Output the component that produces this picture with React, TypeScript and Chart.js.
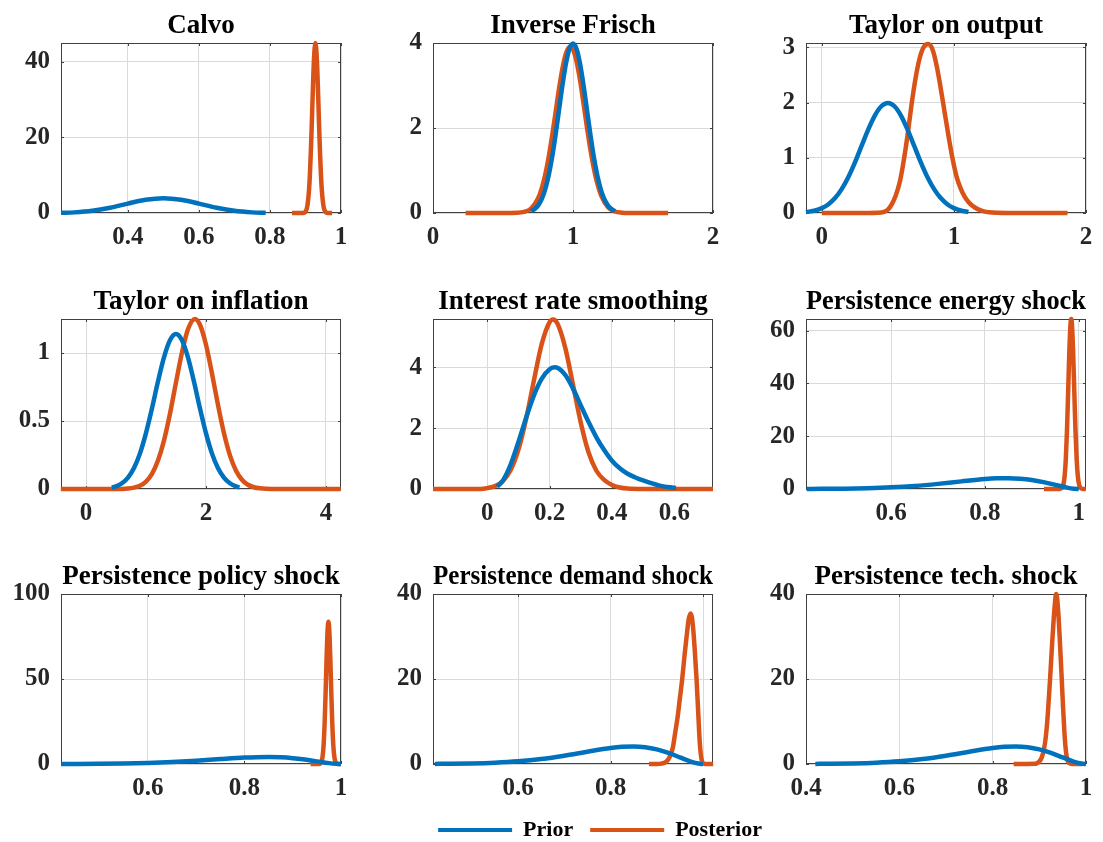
import React, { useEffect, useRef } from 'react';
import { Chart, registerables } from 'chart.js';

Chart.register(...registerables);

// ---------------- data ----------------
const titles = [
  'Calvo',
  'Inverse Frisch',
  'Taylor on output',
  'Taylor on inflation',
  'Interest rate smoothing',
  'Persistence energy shock',
  'Persistence policy shock',
  'Persistence demand shock',
  'Persistence tech. shock',
];
const seriesNames = ['Prior', 'Posterior'];

// Calvo
const calvoPriorX = [0.212, 0.25, 0.3, 0.35, 0.4, 0.45, 0.5, 0.55, 0.6, 0.65, 0.7, 0.75, 0.788];
const calvoPriorY = [0.046, 0.165, 0.573, 1.38, 2.49, 3.49, 3.9, 3.49, 2.49, 1.38, 0.573, 0.165, 0.046];
const calvoPostX = [0.862, 0.89, 0.895, 0.9, 0.905, 0.91, 0.9125, 0.915, 0.9175, 0.92, 0.924, 0.928, 0.932, 0.936, 0.9385, 0.941, 0.9435, 0.946, 0.951, 0.956, 0.961, 0.966, 0.975];
const calvoPostY = [0, 0, 0.05, 0.35, 1.71, 6.08, 10.2, 15.8, 22.7, 30.2, 40.7, 44.9, 40.7, 30.2, 22.7, 15.8, 10.2, 6.08, 1.71, 0.35, 0.05, 0, 0];

// Inverse Frisch
const frischPriorX = [0.7, 0.725, 0.75, 0.775, 0.8, 0.825, 0.85, 0.875, 0.9, 0.925, 0.95, 0.975, 1.0, 1.025, 1.05, 1.075, 1.1, 1.125, 1.15, 1.175, 1.2, 1.225, 1.25, 1.275, 1.3];
const frischPriorY = [0.044, 0.091, 0.175, 0.318, 0.54, 0.863, 1.295, 1.828, 2.42, 3.012, 3.521, 3.867, 3.989, 3.867, 3.521, 3.012, 2.42, 1.828, 1.295, 0.863, 0.54, 0.318, 0.175, 0.091, 0.044];
const frischPostX = [0.233, 0.5, 0.6, 0.65, 0.7, 0.75, 0.775, 0.8, 0.825, 0.85, 0.875, 0.9, 0.925, 0.95, 0.98, 1.0, 1.025, 1.05, 1.075, 1.1, 1.125, 1.15, 1.175, 1.2, 1.25, 1.3, 1.35, 1.4, 1.68];
const frischPostY = [0, 0, 0.005, 0.026, 0.105, 0.34, 0.563, 0.878, 1.29, 1.795, 2.35, 2.92, 3.41, 3.76, 3.92, 3.85, 3.57, 3.13, 2.58, 2.01, 1.48, 1.03, 0.676, 0.419, 0.135, 0.035, 0.007, 0, 0];

// Taylor on output
const outPriorX = [-0.12, -0.05, 0, 0.05, 0.1, 0.15, 0.2, 0.25, 0.3, 0.35, 0.4, 0.45, 0.5, 0.55, 0.6, 0.65, 0.7, 0.75, 0.8, 0.85, 0.9, 0.95, 1.0, 1.05, 1.11];
const outPriorY = [0.016, 0.045, 0.088, 0.159, 0.27, 0.432, 0.648, 0.913, 1.21, 1.506, 1.761, 1.934, 1.995, 1.934, 1.761, 1.506, 1.21, 0.913, 0.648, 0.432, 0.27, 0.159, 0.088, 0.045, 0.019];
const outPostX = [0, 0.35, 0.42, 0.47, 0.5, 0.53, 0.56, 0.59, 0.62, 0.65, 0.68, 0.71, 0.74, 0.77, 0.805, 0.84, 0.87, 0.9, 0.93, 0.96, 0.99, 1.02, 1.05, 1.08, 1.11, 1.14, 1.18, 1.22, 1.27, 1.33, 1.4, 1.86];
const outPostY = [0, 0, 0.003, 0.02, 0.06, 0.16, 0.32, 0.56, 0.95, 1.43, 1.98, 2.45, 2.8, 3.0, 3.06, 2.95, 2.66, 2.26, 1.82, 1.38, 0.98, 0.66, 0.45, 0.3, 0.2, 0.13, 0.07, 0.035, 0.012, 0.003, 0, 0];

// Taylor on inflation
const infPriorX = [0.43, 0.5, 0.6, 0.7, 0.8, 0.9, 1.0, 1.1, 1.2, 1.3, 1.4, 1.5, 1.6, 1.7, 1.8, 1.9, 2.0, 2.1, 2.2, 2.3, 2.4, 2.5, 2.56];
const infPriorY = [0.011, 0.019, 0.042, 0.084, 0.154, 0.262, 0.411, 0.593, 0.79, 0.968, 1.094, 1.14, 1.094, 0.968, 0.79, 0.593, 0.411, 0.262, 0.154, 0.084, 0.042, 0.019, 0.012];
const infPostX = [-0.42, 0.5, 0.7, 0.8, 0.9, 1.0, 1.1, 1.2, 1.3, 1.4, 1.5, 1.6, 1.7, 1.815, 1.9, 2.0, 2.1, 2.2, 2.3, 2.4, 2.5, 2.6, 2.7, 2.8, 2.9, 3.1, 4.25];
const infPostY = [0, 0, 0.004, 0.01, 0.024, 0.054, 0.111, 0.209, 0.356, 0.553, 0.782, 1.004, 1.174, 1.25, 1.208, 1.063, 0.851, 0.62, 0.411, 0.247, 0.136, 0.068, 0.031, 0.013, 0.005, 0, 0];

// Interest rate smoothing
const irsPriorX = [0.032, 0.05, 0.075, 0.1, 0.125, 0.15, 0.175, 0.2, 0.218, 0.25, 0.275, 0.3, 0.325, 0.35, 0.375, 0.4, 0.425, 0.45, 0.475, 0.5, 0.55, 0.605];
const irsPriorY = [0.075, 0.276, 0.805, 1.545, 2.354, 3.084, 3.627, 3.936, 4.0, 3.75, 3.3, 2.75, 2.2, 1.7, 1.28, 0.93, 0.68, 0.5, 0.38, 0.28, 0.12, 0.03];
const irsPostX = [-0.174, -0.02, 0, 0.025, 0.05, 0.075, 0.1, 0.125, 0.15, 0.175, 0.2, 0.211, 0.225, 0.25, 0.275, 0.3, 0.325, 0.35, 0.375, 0.4, 0.425, 0.45, 0.5, 0.724];
const irsPostY = [0, 0, 0.029, 0.093, 0.259, 0.624, 1.296, 2.322, 3.587, 4.778, 5.49, 5.57, 5.44, 4.65, 3.43, 2.18, 1.2, 0.6, 0.3, 0.13, 0.05, 0.015, 0, 0];

// Persistence prior (shared by the four shock panels)
const persPriorX = [0.42, 0.45, 0.5, 0.55, 0.6, 0.65, 0.7, 0.75, 0.8, 0.825, 0.85, 0.875, 0.9, 0.925, 0.95, 0.975, 0.99, 1.0];
const persPriorY = [0.026, 0.051, 0.133, 0.308, 0.634, 1.17, 1.944, 2.884, 3.752, 4.031, 4.112, 3.927, 3.428, 2.605, 1.554, 0.517, 0.098, 0];

// Persistence energy shock
const energyPostX = [0.926, 0.955, 0.96, 0.965, 0.9675, 0.97, 0.9725, 0.975, 0.9775, 0.98, 0.9825, 0.984, 0.9855, 0.988, 0.9905, 0.993, 0.9955, 0.998, 1.0005, 1.003, 1.008, 1.015];
const energyPostY = [0, 0, 0.036, 0.59, 1.87, 5.03, 11.5, 22.4, 37.2, 52.3, 62.5, 64.4, 62.5, 52.3, 37.2, 22.4, 11.5, 5.03, 1.87, 0.59, 0.036, 0];

// Persistence policy shock
const policyPostX = [0.937, 0.955, 0.958, 0.96, 0.962, 0.964, 0.966, 0.968, 0.97, 0.972, 0.974, 0.976, 0.978, 0.98, 0.982, 0.984, 0.986, 0.988, 0.99, 0.993, 1.0];
const policyPostY = [0, 0.06, 0.5, 1.66, 4.7, 11.3, 23.3, 40.7, 60.8, 77.3, 83.7, 77.3, 60.8, 40.7, 23.3, 11.3, 4.7, 1.66, 0.5, 0.06, 0];

// Persistence demand shock
const demandPostX = [0.883, 0.9, 0.91, 0.92, 0.925, 0.93, 0.935, 0.94, 0.945, 0.95, 0.955, 0.96, 0.965, 0.969, 0.973, 0.976, 0.979, 0.982, 0.986, 0.989, 0.991, 0.993, 0.995, 0.997, 1.0, 1.004, 1.022];
const demandPostY = [0, 0.02, 0.1, 0.5, 1.1, 2.2, 4, 7.5, 11, 15.5, 20, 25.5, 30.5, 34, 35.4, 34.5, 31.5, 27, 20, 13.5, 9, 5, 2.5, 1, 0.2, 0, 0];

// Persistence tech. shock
const techPostX = [0.845, 0.89, 0.895, 0.9, 0.905, 0.91, 0.914, 0.918, 0.923, 0.927, 0.931, 0.934, 0.936, 0.938, 0.941, 0.944, 0.948, 0.951, 0.954, 0.957, 0.96, 0.964, 0.97, 0.992];
const techPostY = [0, 0.05, 0.2, 0.6, 1.5, 3.5, 6.5, 11.5, 20, 27.5, 34.5, 38.5, 40, 39.2, 35, 29, 20, 13, 7, 3, 1, 0.2, 0, 0];

const priorXs = [calvoPriorX, frischPriorX, outPriorX, infPriorX, irsPriorX, persPriorX, persPriorX, persPriorX, persPriorX];
const priorYs = [calvoPriorY, frischPriorY, outPriorY, infPriorY, irsPriorY, persPriorY, persPriorY, persPriorY, persPriorY];
const postXs = [calvoPostX, frischPostX, outPostX, infPostX, irsPostX, energyPostX, policyPostX, demandPostX, techPostX];
const postYs = [calvoPostY, frischPostY, outPostY, infPostY, irsPostY, energyPostY, policyPostY, demandPostY, techPostY];

// axis limits
const xMins = [0.212, 0, -0.12, -0.417, -0.174, 0.4185, 0.42, 0.416, 0.4];
const xMaxs = [1, 2, 2, 4.252, 0.724, 1.0155, 1.0, 1.0216, 1.0];
const yMaxs = [44.9, 4, 3.08, 1.25, 5.59, 64.4, 100, 40, 40];

// tick values and labels
const xTickValues = [
  [0.4, 0.6, 0.8, 1], [0, 1, 2], [0, 1, 2], [0, 2, 4], [0, 0.2, 0.4, 0.6],
  [0.6, 0.8, 1], [0.6, 0.8, 1], [0.6, 0.8, 1], [0.4, 0.6, 0.8, 1],
];
const xTickLabels = [
  ['0.4', '0.6', '0.8', '1'], ['0', '1', '2'], ['0', '1', '2'], ['0', '2', '4'], ['0', '0.2', '0.4', '0.6'],
  ['0.6', '0.8', '1'], ['0.6', '0.8', '1'], ['0.6', '0.8', '1'], ['0.4', '0.6', '0.8', '1'],
];
const yTickValues = [
  [0, 20, 40], [0, 2, 4], [0, 1, 2, 3], [0, 0.5, 1], [0, 2, 4],
  [0, 20, 40, 60], [0, 50, 100], [0, 20, 40], [0, 20, 40],
];
const yTickLabels = [
  ['0', '20', '40'], ['0', '2', '4'], ['0', '1', '2', '3'], ['0', '0.5', '1'], ['0', '2', '4'],
  ['0', '20', '40', '60'], ['0', '50', '100'], ['0', '20', '40'], ['0', '20', '40'],
];

// ---------------- style / layout ----------------
const BLUE = '#0072BD';
const ORANGE = '#D95319';
const FONT = "'Liberation Serif', 'Times New Roman', serif";
const COL_LEFT = [61, 433, 806];
const ROW_TOP = [43, 319, 594];
const BOX_W = 280;
const BOX_H = 170;
const Y_AXIS_W = 58;
const X_AXIS_H = 38;
const TITLE_H = 33;
const RIGHT_PAD = 20;
const LEGEND_PANEL = 7;
const LEGEND_CANVAS_W = 450;
const LEGEND_H = 49;

const boxPlugin = {
  id: 'matlabBox',
  beforeDatasetsDraw(chart: any) {
    const { ctx, chartArea } = chart;
    const { left, right, top, bottom } = chartArea;
    const xs = chart.scales.x;
    const ys = chart.scales.y;
    ctx.save();
    ctx.strokeStyle = '#404040';
    ctx.lineWidth = 1;
    ctx.strokeRect(left + 0.5, top + 0.5, right - left - 1, bottom - top - 1);
    ctx.beginPath();
    xs.ticks.forEach((t: any) => {
      const px = Math.round(xs.getPixelForValue(t.value)) + 0.5;
      ctx.moveTo(px, bottom);
      ctx.lineTo(px, bottom - 3);
      ctx.moveTo(px, top);
      ctx.lineTo(px, top + 3);
    });
    ys.ticks.forEach((t: any) => {
      const py = Math.round(ys.getPixelForValue(t.value)) + 0.5;
      ctx.moveTo(left, py);
      ctx.lineTo(left + 3, py);
      ctx.moveTo(right, py);
      ctx.lineTo(right - 3, py);
    });
    ctx.stroke();
    ctx.restore();
  },
};

function makeConfig(i: number): any {
  const legendOn = i === LEGEND_PANEL;
  const tickFont = { family: FONT, size: 25, weight: 'bold' as const };
  const line = (xs: number[], ys: number[], color: string, label: string) => ({
    label,
    data: xs.map((x, k) => ({ x, y: ys[k] })),
    borderColor: color,
    backgroundColor: color,
    borderWidth: 4.5,
    pointRadius: 0,
    cubicInterpolationMode: 'monotone',
    borderCapStyle: 'butt',
    borderJoinStyle: 'round',
    fill: false,
    clip: false,
  });
  const scales: any = {
    x: {
      type: 'linear',
      min: xMins[i],
      max: xMaxs[i],
      afterBuildTicks: (axis: any) => {
        axis.ticks = xTickValues[i].map((v) => ({ value: v }));
      },
      afterFit: (axis: any) => {
        axis.height = X_AXIS_H;
      },
      ticks: {
        autoSkip: false,
        maxRotation: 0,
        minRotation: 0,
        padding: 10,
        color: '#262626',
        font: tickFont,
        callback: (_v: any, idx: number) => xTickLabels[i][idx],
      },
      grid: { color: '#dadada', lineWidth: 1, drawTicks: false },
      border: { display: false },
    },
    y: {
      type: 'linear',
      min: 0,
      max: yMaxs[i],
      afterBuildTicks: (axis: any) => {
        axis.ticks = yTickValues[i].map((v) => ({ value: v }));
      },
      afterFit: (axis: any) => {
        axis.width = Y_AXIS_W;
      },
      ticks: {
        autoSkip: false,
        padding: 11,
        color: '#262626',
        font: tickFont,
        callback: (_v: any, idx: number) => yTickLabels[i][idx],
      },
      grid: { color: '#dadada', lineWidth: 1, drawTicks: false },
      border: { display: false },
    },
  };
  if (legendOn) {
    // empty spacer on the right so the full-width legend can be centred under the figure
    scales.spacer = {
      type: 'linear',
      position: 'right',
      display: true,
      grid: { display: false, drawTicks: false },
      ticks: { display: false },
      border: { display: false },
      afterFit: (axis: any) => {
        axis.width = LEGEND_CANVAS_W - Y_AXIS_W - BOX_W;
      },
    };
  }
  return {
    type: 'line',
    data: {
      datasets: [
        line(priorXs[i], priorYs[i], BLUE, seriesNames[0]),
        line(postXs[i], postYs[i], ORANGE, seriesNames[1]),
      ],
    },
    options: {
      animation: false,
      responsive: false,
      devicePixelRatio: 1,
      events: [],
      layout: {
        padding: { left: 0, top: 0, bottom: 0, right: legendOn ? 0 : RIGHT_PAD },
      },
      plugins: {
        tooltip: { enabled: false },
        title: {
          display: true,
          text: titles[i],
          fullSize: false,
          color: '#000000',
          font: { family: FONT, size: 27, weight: 'bold', lineHeight: '32px' },
          padding: { top: 0, bottom: 1 },
        },
        legend: legendOn
          ? {
              display: true,
              position: 'bottom',
              align: 'center',
              labels: {
                boxWidth: 74,
                boxHeight: 4,
                padding: 17,
                color: '#000000',
                font: { family: FONT, size: 22, weight: 'bold' },
                generateLabels: () => [
                  { text: seriesNames[0], fillStyle: BLUE, strokeStyle: BLUE, lineWidth: 0, hidden: false, datasetIndex: 0 },
                  { text: seriesNames[1], fillStyle: ORANGE, strokeStyle: ORANGE, lineWidth: 0, hidden: false, datasetIndex: 1 },
                ],
              },
            }
          : { display: false },
      },
      scales,
    },
    plugins: [boxPlugin],
  };
}

function Panel({ index }: { index: number }) {
  const ref = useRef<HTMLCanvasElement>(null);
  useEffect(() => {
    if (!ref.current) return;
    const chart = new Chart(ref.current, makeConfig(index));
    return () => chart.destroy();
  }, [index]);
  const col = index % 3;
  const row = Math.floor(index / 3);
  const legendOn = index === LEGEND_PANEL;
  const left = COL_LEFT[col] - Y_AXIS_W;
  const top = ROW_TOP[row] - TITLE_H;
  const width = legendOn ? LEGEND_CANVAS_W : Y_AXIS_W + BOX_W + RIGHT_PAD;
  const height = TITLE_H + BOX_H + X_AXIS_H + (legendOn ? LEGEND_H : 0);
  return (
    <canvas
      ref={ref}
      width={width}
      height={height}
      style={{ position: 'absolute', left, top, width, height, display: 'block' }}
    />
  );
}

export default function App() {
  return (
    <div
      style={{
        position: 'absolute',
        left: 0,
        top: 0,
        width: 1103,
        height: 842,
        overflow: 'hidden',
        background: '#ffffff',
      }}
    >
      {titles.map((_, i) => (
        <Panel key={i} index={i} />
      ))}
    </div>
  );
}
